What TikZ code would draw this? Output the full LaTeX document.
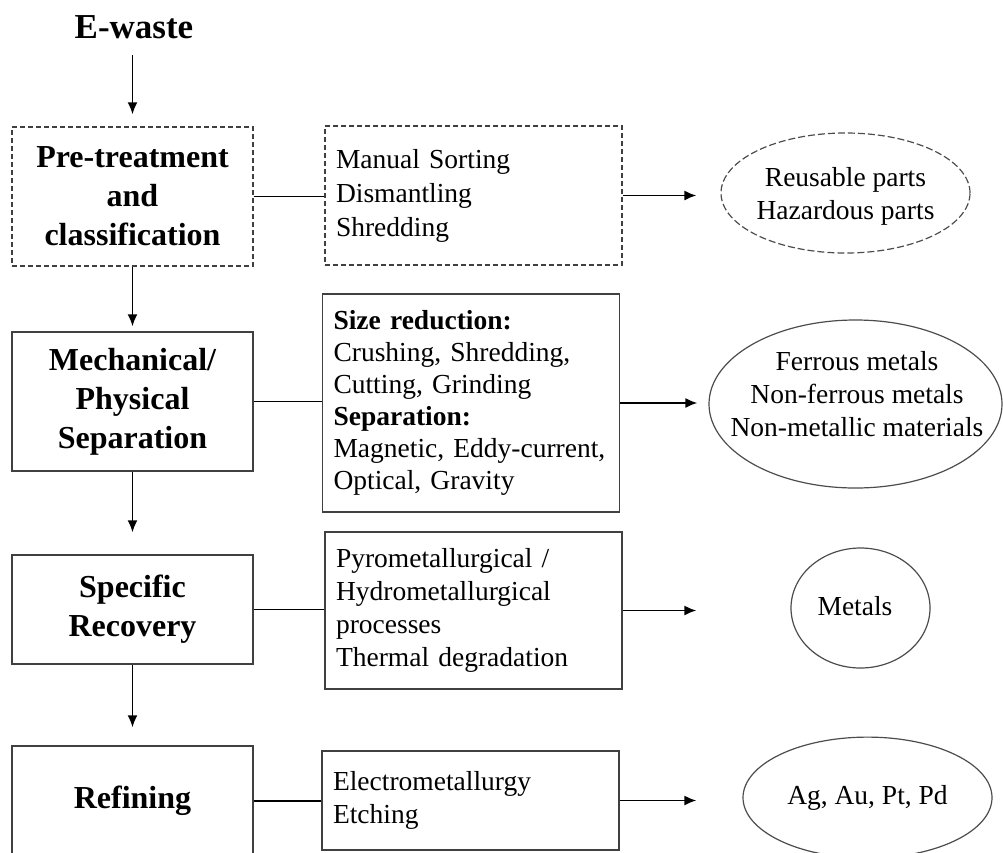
\documentclass[tikz,border=0pt]{standalone}
\usepackage{fontspec}
\setmainfont{Liberation Serif}
\usetikzlibrary{shapes.geometric,arrows.meta}

\begin{document}
\begin{tikzpicture}[x=1pt, y=-1pt, % 以像素为单位, y 轴向下
                stage/.style={draw=black!75, line width=1.4pt, align=center, inner sep=0pt,
                    minimum width=241pt, font=\fontsize{32}{39}\selectfont\bfseries}, % 左侧步骤框
                detail/.style={draw=black!75, line width=1.4pt, align=left, text width=275pt,
                    inner xsep=11pt, inner ysep=0pt, font=\fontsize{27.5}{33}\selectfont}, % 中间说明框
                product/.style={draw=black!70, line width=1.2pt, ellipse, inner sep=0pt}, % 右侧产物椭圆
                prodtext/.style={align=center, font=\fontsize{27.5}{33}\selectfont},
                dashbox/.style={dash pattern=on 5pt off 3pt},
                dashoval/.style={dash pattern=on 7pt off 3pt},
                link/.style={line width=1.8pt},
                flow/.style={line width=1.8pt, -{Latex[length=12pt,width=10pt]}}
            ]
            % 画布大小 (底部被裁切)
            \useasboundingbox (0,0) rectangle (1003,852);
            \clip (0,0) rectangle (1003,852);

            % 标题
            \node[inner sep=0pt, font=\fontsize{35}{42}\selectfont\bfseries] (ewaste) at (134,27) {E-waste};

            % 左侧四个步骤
            \node[stage, dashbox, minimum height=139pt] (pre) at (132.5,196.5) {Pre-treatment\\and\\classification};
            \node[stage, minimum height=139pt] (mech) at (132.5,401.5) {Mechanical/\\Physical\\Separation};
            \node[stage, minimum height=109pt] (spec) at (132.5,609.5) {Specific\\Recovery};
            \node[stage, minimum height=110pt] (refine) at (132.5,801) {Refining};

            % 中间的方法说明
            \node[detail, dashbox, minimum height=139pt] (manual) at (473.5,195.5) {Manual Sorting\\[1pt]Dismantling\\[1pt]Shredding};
            \node[detail, minimum height=218pt] (sizered) at (471,403) {\textbf{Size reduction:}\\[-1pt]Crushing, Shredding,\\[-1pt]Cutting, Grinding\\[-1pt]\textbf{Separation:}\\[-1pt]Magnetic, Eddy-current,\\[-1pt]Optical, Gravity};
            \node[detail, minimum height=157pt] (pyro) at (473.5,610.5) {Pyrometallurgical /\\Hydrometallurgical\\processes\\Thermal degradation};
            \node[detail, minimum height=99pt] (electro) at (470.5,800.5) {Electrometallurgy\\Etching};

            % 右侧产物
            \node[product, dashoval, minimum width=249pt, minimum height=120pt] (reuse) at (845.5,193) {};
            \node[prodtext] (reusetxt) at (845.5,196) {Reusable parts\\Hazardous parts};
            \node[product, minimum width=293pt, minimum height=168pt] (ferrous) at (855.5,404) {};
            \node[prodtext] (ferroustxt) at (857,394) {Ferrous metals\\Non-ferrous metals\\Non-metallic materials};
            \node[product, minimum width=139pt, minimum height=120pt] (metals) at (860.5,608) {};
            \node[prodtext] (metalstxt) at (855,606) {Metals};
            \node[product, minimum width=249pt, minimum height=121pt] (noble) at (867.5,797.6) {};
            \node[prodtext] (nobletxt) at (867.5,798) {Ag, Au, Pt, Pd};

            % 竖向箭头
            \draw[flow, shorten <=16pt, shorten >=12pt] (ewaste.south -| pre.north) -- (pre.north);
            \draw[flow, shorten >=5pt] (pre) -- (mech);
            \draw[flow, shorten >=22pt] (mech) -- (spec);
            \draw[flow, shorten >=18pt] (spec) -- (refine);

            % 横向连线与箭头
            \draw[link] (pre.east) -- (pre.east -| manual.west);
            \draw[flow, shorten >=24pt] (manual.east) -- (manual.east -| reuse.west);
            \draw[link] (mech.east) -- (mech.east -| sizered.west);
            \draw[flow, shorten >=11pt] (sizered.east) -- (sizered.east -| ferrous.west);
            \draw[link] (spec.east) -- (spec.east -| pyro.west);
            \draw[flow, shorten >=94pt] (pyro.east) -- (pyro.east -| metals.west);
            \draw[link] (refine.east) -- (refine.east -| electro.west);
            \draw[flow, shorten >=46pt] (electro.east) -- (electro.east -| noble.west);

        \end{tikzpicture}
\end{document}
